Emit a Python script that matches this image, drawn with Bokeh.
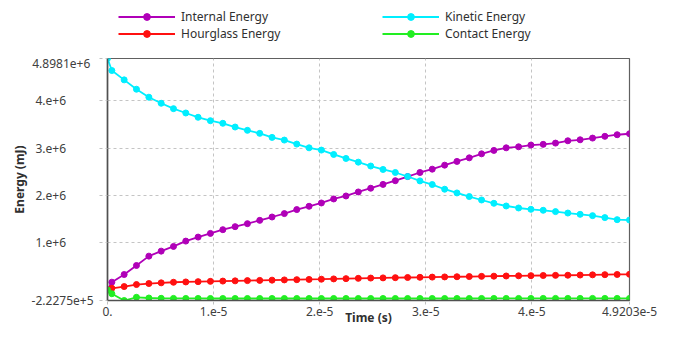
from bokeh.plotting import figure
from bokeh.layouts import column
from bokeh.models import FixedTicker, Legend, LegendItem, ColumnDataSource, Range1d
from bokeh.embed import file_html
from bokeh.resources import INLINE

# Time samples (microseconds)
time_us = [0, 0.41, 1.57, 2.73, 3.90, 5.06, 6.22, 7.38, 8.54, 9.70, 10.87, 12.03,
           13.19, 14.35, 15.51, 16.67, 17.84, 19.00, 20.16, 21.32, 22.48, 23.64,
           24.81, 25.97, 27.13, 28.29, 29.45, 30.61, 31.78, 32.94, 34.10, 35.26,
           36.42, 37.58, 38.75, 39.91, 41.07, 42.23, 43.39, 44.55, 45.72, 46.88,
           48.04, 49.203]

# Energies (mJ)
internal = [0, 165000, 327000, 518000, 716000, 822000, 921000, 1034000, 1119000,
            1197000, 1276000, 1340000, 1403000, 1473000, 1544000, 1616000, 1701000,
            1771000, 1841000, 1926000, 1989000, 2074000, 2153000, 2234000, 2312000,
            2400000, 2486000, 2556000, 2641000, 2720000, 2796000, 2881000, 2953000,
            3008000, 3030000, 3066000, 3081000, 3108000, 3157000, 3178000, 3214000,
            3251000, 3285000, 3306000]
kinetic = [4898100, 4643000, 4446000, 4248000, 4079000, 3951000, 3837000, 3745000,
           3654000, 3582000, 3527000, 3448000, 3378000, 3314000, 3229000, 3172000,
           3087000, 3008000, 2960000, 2868000, 2783000, 2705000, 2623000, 2550000,
           2486000, 2401000, 2308000, 2231000, 2132000, 2053000, 1977000, 1904000,
           1834000, 1777000, 1735000, 1707000, 1686000, 1658000, 1628000, 1601000,
           1573000, 1531000, 1488000, 1480000]
hourglass = [0, 36000, 72000, 115000, 136000, 151000, 163000, 170000, 176000, 182000,
             188000, 193000, 198000, 203000, 208000, 213000, 218000, 223000, 228000,
             234000, 240000, 246000, 252000, 256000, 260000, 264000, 268000, 272000,
             276000, 280000, 284000, 288000, 292000, 296000, 300000, 303000, 306000,
             309000, 312000, 316000, 320000, 324000, 328000, 332000]
contact = [0, -80000, -222750, -155000, -170000, -176000, -178000, -179000, -179000,
           -180000, -180000, -180000, -180000, -180000, -180000, -180000, -180000,
           -180000, -180000, -180000, -180000, -180000, -180000, -180000, -180000,
           -180000, -180000, -180000, -180000, -180000, -180000, -179000, -179000,
           -179000, -179000, -179000, -178000, -178000, -178000, -178000, -178000,
           -178000, -178000, -178000]

series_names = ["Internal Energy", "Kinetic Energy", "Hourglass Energy", "Contact Energy"]
series_colors = ["#b000b8", "#00eeff", "#ff1010", "#22ee22"]

x_ticks = [0, 1e-5, 2e-5, 3e-5, 4e-5, 4.9203e-5]
x_tick_labels = ["0.", "1.e-5", "2.e-5", "3.e-5", "4.e-5", "4.9203e-5"]
y_ticks = [-222750, 1e6, 2e6, 3e6, 4e6, 4898100]
y_tick_labels = ["-2.2275e+5", "1.e+6", "2.e+6", "3.e+6", "4.e+6", "4.8981e+6"]

FONT = "Noto Sans"
LINE_W = 1.8
MARK_SIZE = 6

t = [v * 1e-6 for v in time_us]

# ---------------- main chart ----------------
p = figure(width=657, height=275, output_backend="svg", toolbar_location=None,
           x_range=Range1d(x_ticks[0], x_ticks[-1]),
           y_range=Range1d(y_ticks[0], y_ticks[-1]),
           min_border_left=107, min_border_right=28, min_border_top=4,
           min_border_bottom=29)
p.background_fill_color = "white"
p.border_fill_color = "white"
p.outline_line_color = "#606060"
p.outline_line_width = 1.2

for name, ys, color in zip(series_names, [internal, kinetic, hourglass, contact], series_colors):
    src = ColumnDataSource(dict(t=t, y=ys))
    p.line("t", "y", source=src, line_color=color, line_width=LINE_W)
    p.scatter("t", "y", source=src, size=MARK_SIZE, marker="circle",
              fill_color=color, line_color=color)

xa = p.xaxis[0]
xa.ticker = FixedTicker(ticks=x_ticks)
xa.major_label_overrides = {k: v for k, v in zip(x_ticks, x_tick_labels)}
ya = p.yaxis[0]
ya.ticker = FixedTicker(ticks=y_ticks)
# pad short labels with figure spaces so that all labels start at the same x
pad = {"-2.2275e+5": "", "4.8981e+6": "\u2008"}
ya.major_label_overrides = {
    k: v + pad.get(v, "\u2007" * (len("4.8981e+6") - len(v)))
    for k, v in zip(y_ticks, y_tick_labels)}

for ax in (xa, ya):
    ax.axis_line_color = "#505050"
    ax.axis_line_width = 1.6
    ax.major_tick_in = 0
    ax.minor_tick_in = 0
    ax.minor_tick_out = 0
    ax.major_tick_line_color = "#c0c0c0"
    ax.major_tick_line_dash = "3 3"
    ax.major_label_text_font = FONT
    ax.major_label_text_font_size = "12px"
    ax.major_label_text_color = "#404040"
    ax.axis_label_text_font = FONT
    ax.axis_label_text_font_size = "12px"
    ax.axis_label_text_font_style = "bold"
    ax.axis_label_text_color = "#303030"

xa.major_tick_out = 4
xa.major_label_standoff = 2
xa.axis_label = "Time (s)"
xa.axis_label_standoff = -10
ya.major_tick_out = 8
ya.major_label_standoff = 6
ya.axis_label = "Energy (mJ)"
ya.axis_label_standoff = 1

p.xgrid.ticker = FixedTicker(ticks=x_ticks)
p.ygrid.ticker = FixedTicker(ticks=y_ticks)
for g in (p.xgrid[0], p.ygrid[0]):
    g.grid_line_color = "#c4c4c4"
    g.grid_line_dash = "3 3"
    g.grid_line_width = 1

# ---------------- legend strip above the chart ----------------
lg = figure(width=657, height=54, output_backend="svg", toolbar_location=None,
            x_range=Range1d(0, 1), y_range=Range1d(0, 1),
            x_axis_type=None, y_axis_type=None,
            min_border_left=0, min_border_right=0, min_border_top=0, min_border_bottom=0)
lg.outline_line_color = None
lg.grid.visible = False
lg.background_fill_color = "white"
lg.border_fill_color = "white"

# legend swatches only (a single undrawable NaN point each)
swatches = []
for color in series_colors:
    nan_src = ColumnDataSource(dict(x=[float("nan")], y=[float("nan")]))
    l = lg.line("x", "y", source=nan_src, line_color=color, line_width=LINE_W)
    s = lg.scatter("x", "y", source=nan_src, size=MARK_SIZE, marker="circle",
                   fill_color=color, line_color=color)
    swatches.append([l, s])

def add_legend(idx, loc):
    leg = Legend(items=[LegendItem(label=series_names[i], renderers=swatches[i]) for i in idx],
                 location=loc, orientation="vertical",
                 glyph_width=57, glyph_height=17, label_height=17, label_standoff=6,
                 spacing=0, padding=0, margin=0,
                 border_line_alpha=0, background_fill_alpha=0,
                 label_text_font=FONT, label_text_font_size="12px",
                 label_text_color="#303030")
    lg.add_layout(leg, "center")

# legend frame is aligned with the chart frame (starts 107 px from the left)
add_legend([0, 2], (11, 12))
add_legend([1, 3], (275, 12))

layout = column(lg, p, spacing=0)
open("out.html", "w").write(file_html(layout, INLINE))
